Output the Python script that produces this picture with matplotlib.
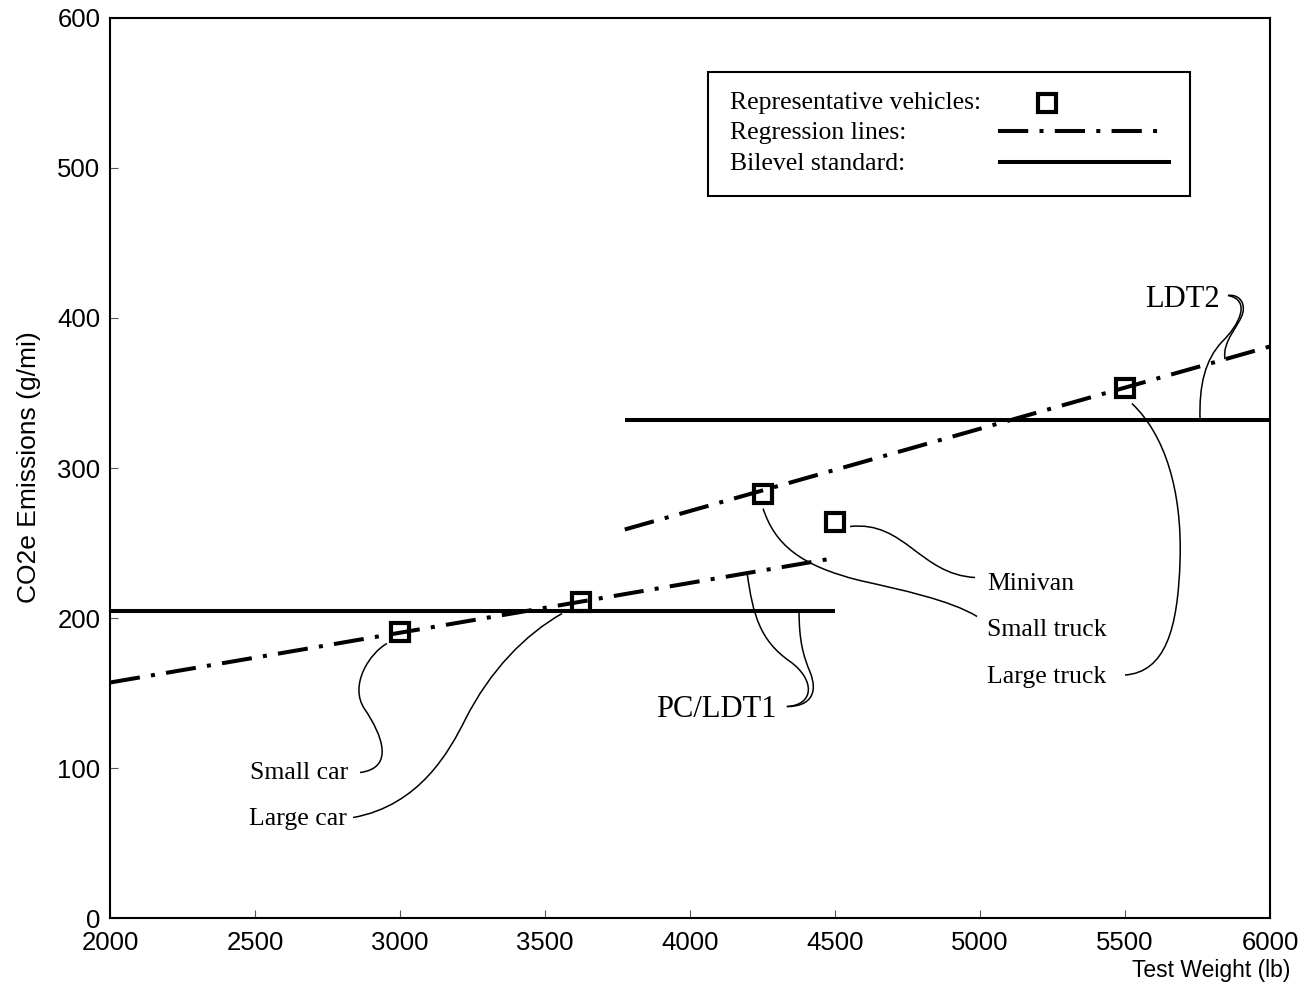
import numpy as np
import matplotlib.pyplot as plt
from matplotlib.path import Path
from matplotlib.patches import PathPatch, Rectangle
from matplotlib.lines import Line2D

plt.rcParams['font.family'] = ['Liberation Sans', 'DejaVu Sans']
SERIF = ['Liberation Serif', 'DejaVu Serif']

# representative vehicles
vehicles = ['Small car', 'Large car', 'Small truck', 'Minivan', 'Large truck']
weights = [3000, 3625, 4250, 4500, 5500]
co2 = [191, 211, 283, 264, 353]

# regression lines (end points)
pc_reg_x = [2000, 4500]
pc_reg_y = [157, 240]
lt_reg_x = [3775, 6000]
lt_reg_y = [259, 381]

# bilevel standard
pc_std_x = [2000, 4500]
pc_std_y = [205, 205]
lt_std_x = [3775, 6000]
lt_std_y = [332, 332]

x_ticks = [2000, 2500, 3000, 3500, 4000, 4500, 5000, 5500, 6000]
y_ticks = [0, 100, 200, 300, 400, 500, 600]

DASHDOT = (0, (7.5, 2.8, 1.0, 2.8))


def leader(ax, pts):
    # chain of cubic bezier segments: P0, C1, C2, P1, C1, C2, P2 ...
    codes = [Path.MOVETO] + [Path.CURVE4] * (len(pts) - 1)
    ax.add_patch(PathPatch(Path(pts, codes), fc='none', ec='black', lw=1.1, zorder=4))


fig = plt.figure(figsize=(13.04, 9.93), dpi=100)
ax = fig.add_axes([0.0844, 0.0755, 0.8895, 0.9064])

ax.plot(pc_reg_x, pc_reg_y, color='black', lw=2.9, linestyle=DASHDOT, zorder=2)
ax.plot(lt_reg_x, lt_reg_y, color='black', lw=2.9, linestyle=DASHDOT, zorder=2)
ax.plot(pc_std_x, pc_std_y, color='black', lw=2.9, solid_capstyle='butt', zorder=2)
ax.plot(lt_std_x, lt_std_y, color='black', lw=2.9, solid_capstyle='butt', zorder=2)
ax.plot(weights, co2, linestyle='none', marker='s', ms=13.5, mfc='none',
        mec='black', mew=3.0, zorder=3)

# leader curves from each label to its mark
w = dict(zip(vehicles, weights))
c = dict(zip(vehicles, co2))
leader(ax, [(w['Small car'] - 45, c['Small car'] - 8), (2897, 177), (2821, 155),
            (2879, 139), (2938, 122), (2983, 100), (2862, 97)])
leader(ax, [(w['Large car'] - 66, c['Large car'] - 8), (3431, 189), (3310, 165),
            (3224, 132), (3172, 112), (3069, 75), (2838, 67)])
leader(ax, [(w['Small truck'] + 2, c['Small truck'] - 10), (4293, 249), (4379, 235),
            (4586, 225), (4724, 219), (4897, 212), (4990, 201)])
leader(ax, [(w['Minivan'] + 52, c['Minivan'] - 3), (4741, 265), (4793, 229),
            (4983, 227)])
leader(ax, [(w['Large truck'] + 24, c['Large truck'] - 10), (5638, 322), (5697, 285),
            (5690, 239), (5683, 192), (5638, 164), (5500, 162)])

# group labels with two leaders each
x0 = 4197
leader(ax, [(x0, np.interp(x0, pc_reg_x, pc_reg_y)), (4217, 202), (4241, 185),
            (4345, 171), (4431, 159), (4431, 142), (4334, 141)])
x0 = 4376
leader(ax, [(x0, pc_std_y[0]), (4376, 185), (4390, 175),
            (4414, 164), (4441, 151), (4421, 141), (4334, 141)])
x0 = 5759
leader(ax, [(x0, lt_std_y[0]), (5755, 355), (5776, 372),
            (5834, 384), (5893, 395), (5938, 412), (5855, 415)])
x0 = 5845
leader(ax, [(x0, np.interp(x0, lt_reg_x, lt_reg_y)), (5834, 385), (5897, 395),
            (5907, 404), (5914, 411), (5890, 416), (5855, 415)])

lab = dict(family=SERIF, fontsize=18.5, va='baseline')
ax.text(2820, 93, 'Small car', ha='right', **lab)
ax.text(2815, 62, 'Large car', ha='right', **lab)
ax.text(5024, 219, 'Minivan', ha='left', **lab)
ax.text(5024, 188, 'Small truck', ha='left', **lab)
ax.text(5024, 157, 'Large truck', ha='left', **lab)
ax.text(4300, 134, 'PC/LDT1', ha='right', family=SERIF, fontsize=22, va='baseline')
ax.text(5828, 407, 'LDT2', ha='right', family=SERIF, fontsize=22, va='baseline')

# key box
ax.add_patch(Rectangle((0.5155, 0.8022), 0.4155, 0.1378, transform=ax.transAxes,
                       fc='white', ec='black', lw=1.5, zorder=5))
key = dict(transform=ax.transAxes, family=SERIF, fontsize=18.5, va='baseline',
           ha='left', zorder=6)
ax.text(0.5345, 0.8989, 'Representative vehicles:', **key)
ax.text(0.5345, 0.8656, 'Regression lines:', **key)
ax.text(0.5345, 0.8311, 'Bilevel standard:', **key)
ax.add_line(Line2D([0.8078], [0.9056], transform=ax.transAxes, marker='s', ms=13.5,
                   mfc='none', mec='black', mew=3.0, zorder=6))
ax.add_line(Line2D([0.7655, 0.912], [0.8744, 0.8744], transform=ax.transAxes,
                   color='black', lw=2.9, linestyle=DASHDOT, zorder=6))
ax.add_line(Line2D([0.7655, 0.9147], [0.84, 0.84], transform=ax.transAxes,
                   color='black', lw=2.9, solid_capstyle='butt', zorder=6))

ax.set_xlim(2000, 6000)
ax.set_ylim(0, 600)
ax.set_xticks(x_ticks)
ax.set_yticks(y_ticks)
ax.tick_params(direction='in', length=6, width=0.8, color='#555555',
               labelsize=18.5)
ax.tick_params(axis='x', pad=9.5)
ax.tick_params(axis='y', pad=7)
for s in ax.spines.values():
    s.set_linewidth(1.5)

fig.text(1290 / 1304, 1 - 970 / 993, 'Test Weight (lb)', ha='right', va='center',
         fontsize=16.5)
fig.text(29 / 1304, 1 - 467 / 993, 'CO2e Emissions (g/mi)', ha='center', va='center',
         rotation=90, fontsize=19)

plt.savefig('out.png', dpi=100)
